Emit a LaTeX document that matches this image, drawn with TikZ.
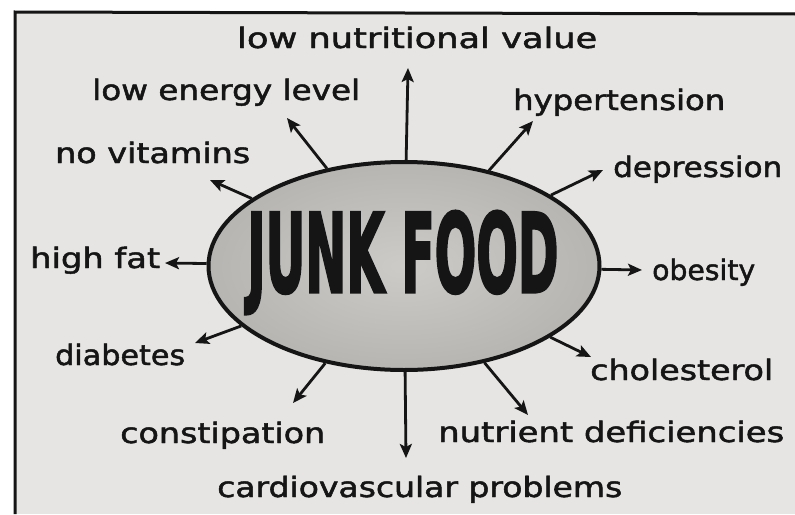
\documentclass[tikz,border=0pt]{standalone}
\usepackage{fontspec}
\usetikzlibrary{arrows.meta,shapes.geometric}
\newfontfamily\hand{DejaVu Sans}[FakeBold=1.6]
\newfontfamily\junk{DejaVu Sans}[BoldFeatures={FakeBold=3}]
\definecolor{paper}{HTML}{E6E5E3}
\definecolor{ink}{HTML}{151515}
\newcommand{\hw}[2]{\resizebox{#1pt}{\height}{\hand\fontsize{28}{32}\selectfont #2}}
\tikzset{
  lbl/.style={anchor=base west, inner sep=0pt, text=ink},
  arr/.style={draw=ink, line width=2.8pt, -{Stealth[length=14pt,width=12pt,inset=3pt]}},
  blob/.style={ellipse, draw=ink, line width=4pt, minimum width=391pt, minimum height=208pt,
     inner sep=0pt, shading=radial, inner color={rgb,255:red,204;green,203;blue,200},
     outer color={rgb,255:red,182;green,181;blue,178}}
}
\begin{document}
\begin{tikzpicture}[x=1pt,y=-1pt]
\useasboundingbox (0,0) rectangle (795,514);
\fill[white] (0,0) rectangle (795,514);
\fill[paper] (15,12) rectangle (795,514);
\draw[ink, line width=3pt] (15,514) -- (15,12) -- (795,14);

\node[blob] (jf) at (404,266) {};
\node[inner sep=0pt, text=ink] (jft) at (403,262.5) {\resizebox{311pt}{81pt}{\junk\bfseries JUNK FOOD}};

\node[lbl] (nut) at (237,48) {\hw{360}{low nutritional value}};
\node[lbl] (en)  at (92,100) {\hw{268}{low energy level}};
\node[lbl] (vit) at (55,163) {\hw{195}{no vitamins}};
\node[lbl] (hyp) at (513,110) {\hw{212}{hypertension}};
\node[lbl] (dep) at (613,177) {\hw{169}{depression}};
\node[lbl] (fat) at (30,268) {\hw{130}{high fat}};
\node[lbl] (obe) at (652,280) {\hw{103}{obesity}};
\node[lbl] (dia) at (55,365) {\hw{130}{diabetes}};
\node[lbl] (cho) at (590,380) {\hw{183}{cholesterol}};
\node[lbl] (con) at (120,443) {\hw{205}{constipation}};
\node[lbl] (ntr) at (438,442) {\hw{346}{nutrient deficiencies}};
\node[lbl] (car) at (217,497) {\hw{405}{cardiovascular problems}};

\coordinate (tNut) at (408,68);
\coordinate (tEn)  at (287,118);
\coordinate (tVit) at (210,180);
\coordinate (tHyp) at (533,121);
\coordinate (tDep) at (603,170);
\coordinate (tFat) at (165,263);
\coordinate (tObe) at (642,270);
\coordinate (tDia) at (195,343);
\coordinate (tCho) at (591,357);
\coordinate (tCon) at (293,403);
\coordinate (tCar) at (406,458);
\coordinate (tNtr) at (528,415);

\foreach \t in {tNut,tEn,tVit,tHyp,tDep,tFat,tObe,tDia,tCho,tCon,tCar,tNtr}
  \draw[arr] (jf) -- (\t);
\end{tikzpicture}
\end{document}
